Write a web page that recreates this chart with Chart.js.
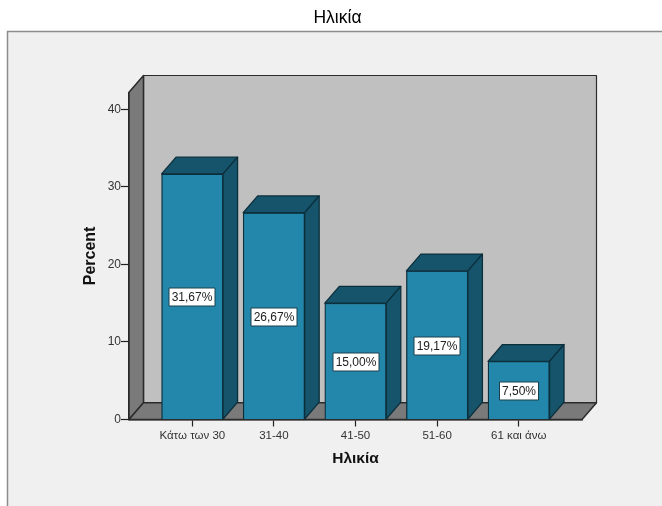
<!DOCTYPE html>
<html>
<head>
<meta charset="utf-8">
<style>
  html, body { margin: 0; padding: 0; background: #fff; overflow: hidden; }
  canvas { display: block; }
</style>
<script src="https://cdn.jsdelivr.net/npm/chart.js@4/dist/chart.umd.min.js"></script>
</head>
<body>
<canvas id="chart" width="662" height="506"></canvas>
<script>
const chartTitle = 'Ηλικία';
const yAxisTitle = 'Percent';
const categories = ['Κάτω των 30', '31-40', '41-50', '51-60', '61 και άνω'];
const percents = [31.67, 26.67, 15.00, 19.17, 7.50];
const yTicks = [0, 10, 20, 30, 40];

const FONT = '"Liberation Sans", Arial, sans-serif';
const DEPTH_X = 14.5;
const DEPTH_Y = 16.8;

const colors = {
  panel: '#f0f0f0',
  panelEdge: '#8c8c8c',
  backWall: '#c0c0c0',
  sideWall: '#7a7a7a',
  front: '#2387ab',
  shade: '#15546a',
  edge: '#0c2f3c',
  wallEdge: '#2b2b2b'
};

function poly(ctx, pts, fill, stroke, lw) {
  ctx.beginPath();
  pts.forEach((p, i) => i ? ctx.lineTo(p[0], p[1]) : ctx.moveTo(p[0], p[1]));
  ctx.closePath();
  ctx.fillStyle = fill;
  ctx.fill();
  ctx.lineJoin = 'round';
  ctx.lineWidth = lw;
  ctx.strokeStyle = stroke;
  ctx.stroke();
}

// Grey panel behind the plot, cut off by the right and bottom edges of the page.
const panelPlugin = {
  id: 'panel',
  beforeDraw(chart) {
    const { ctx, width, height } = chart;
    ctx.save();
    ctx.fillStyle = colors.panel;
    ctx.fillRect(8, 32, width - 8, height - 32);
    ctx.strokeStyle = colors.panelEdge;
    ctx.lineWidth = 1.5;
    ctx.beginPath();
    ctx.moveTo(7.5, height);
    ctx.lineTo(7.5, 31.5);
    ctx.lineTo(width, 31.5);
    ctx.stroke();
    ctx.restore();
  }
};

// Back wall, left wall and floor of the 3D box, hung off the chart area.
const boxPlugin = {
  id: 'box',
  beforeDatasetsDraw(chart) {
    const { ctx, chartArea: a } = chart;
    const bx = a.left + DEPTH_X, by = a.top - DEPTH_Y;
    const rx = a.right + DEPTH_X, fy = a.bottom - DEPTH_Y;
    ctx.save();
    poly(ctx, [[bx, by], [rx, by], [rx, fy], [bx, fy]], colors.backWall, colors.wallEdge, 1.2);
    poly(ctx, [[a.left, a.top], [bx, by], [bx, fy], [a.left, a.bottom]], colors.sideWall, colors.wallEdge, 1.5);
    poly(ctx, [[a.left, a.bottom], [a.right, a.bottom], [rx, fy], [bx, fy]], colors.sideWall, colors.wallEdge, 1.5);
    ctx.restore();
  }
};

// Top and side faces of every bar, then the boxed value label on its front.
const barFacesPlugin = {
  id: 'barFaces',
  afterDatasetsDraw(chart) {
    const { ctx } = chart;
    const bars = chart.getDatasetMeta(0).data;
    ctx.save();
    bars.forEach((bar, i) => {
      const l = bar.x - bar.width / 2, r = bar.x + bar.width / 2;
      const t = bar.y, b = bar.base;
      poly(ctx, [[l, t], [l + DEPTH_X, t - DEPTH_Y], [r + DEPTH_X, t - DEPTH_Y], [r, t]],
        colors.shade, colors.edge, 1.3);
      poly(ctx, [[r, t], [r + DEPTH_X, t - DEPTH_Y], [r + DEPTH_X, b - DEPTH_Y], [r, b]],
        colors.shade, colors.edge, 1.3);

      const text = percents[i].toFixed(2).replace('.', ',') + '%';
      ctx.font = '12px ' + FONT;
      const w = Math.round(ctx.measureText(text).width) + 5;
      const h = 18;
      const cx = Math.round(bar.x), cy = Math.round((t + b) / 2) + 1;
      ctx.fillStyle = '#ffffff';
      ctx.fillRect(cx - w / 2, cy - h / 2, w, h);
      ctx.strokeStyle = '#1c3f4c';
      ctx.lineWidth = 1;
      ctx.strokeRect(cx - w / 2, cy - h / 2, w, h);
      ctx.fillStyle = '#222222';
      ctx.textAlign = 'center';
      ctx.textBaseline = 'middle';
      ctx.fillText(text, cx, cy + 0.5);
    });
    ctx.restore();
  }
};

// The heading sits centred on the page rather than on the padded layout box.
const titleCentrePlugin = {
  id: 'titleCentre',
  afterLayout(chart) {
    chart.titleBlock.left = 0;
    chart.titleBlock.right = 675;
  }
};

new Chart(document.getElementById('chart'), {
  type: 'bar',
  data: {
    datasets: [{
      data: categories.map((c, i) => ({ x: i, y: percents[i] })),
      backgroundColor: colors.front,
      borderColor: colors.edge,
      borderWidth: 1.3,
      barThickness: 61.5
    }]
  },
  plugins: [panelPlugin, boxPlugin, barFacesPlugin, titleCentrePlugin],
  options: {
    responsive: false,
    animation: false,
    events: [],
    layout: { padding: { left: 0, right: 80, top: 0, bottom: 0 } },
    plugins: {
      legend: { display: false },
      tooltip: { enabled: false },
      title: {
        display: true,
        text: chartTitle,
        color: '#000000',
        font: { family: FONT, size: 17.5, weight: 'normal', lineHeight: 1 },
        padding: { top: 9.5, bottom: 65.3 }
      }
    },
    scales: {
      x: {
        type: 'linear',
        offset: false,
        min: -0.776,
        max: 4.775,
        afterFit(s) { s.height = 86.5; },
        afterBuildTicks(s) { s.ticks = categories.map((c, i) => ({ value: i })); },
        grid: { display: true, offset: false, drawOnChartArea: false, drawTicks: true, tickLength: 7, tickColor: '#222222', tickWidth: 1.2 },
        border: { display: true, color: '#222222', width: 1.5 },
        ticks: {
          autoSkip: false,
          maxRotation: 0,
          padding: 2,
          color: '#333333',
          font: { family: FONT, size: 11.5 },
          callback: v => categories[v]
        },
        title: {
          display: true,
          text: chartTitle,
          color: '#111111',
          font: { family: FONT, size: 15.5, weight: 'bold', lineHeight: 1 },
          padding: { top: 0, bottom: 39.5 }
        }
      },
      y: {
        min: 0,
        max: 42.2,
        afterFit(s) { s.width = 129; },
        afterBuildTicks(s) { s.ticks = yTicks.map(v => ({ value: v })); },
        grid: { display: true, drawOnChartArea: false, drawTicks: true, tickLength: 8, tickColor: '#222222', tickWidth: 1.2 },
        border: { display: true, color: '#222222', width: 1.5 },
        ticks: {
          padding: 0,
          color: '#333333',
          font: { family: FONT, size: 12 }
        },
        title: {
          display: true,
          text: yAxisTitle,
          color: '#111111',
          font: { family: FONT, size: 16, weight: 'bold', lineHeight: 1 },
          padding: { top: 82.5, bottom: 0 }
        }
      }
    }
  }
});
</script>
</body>
</html>
